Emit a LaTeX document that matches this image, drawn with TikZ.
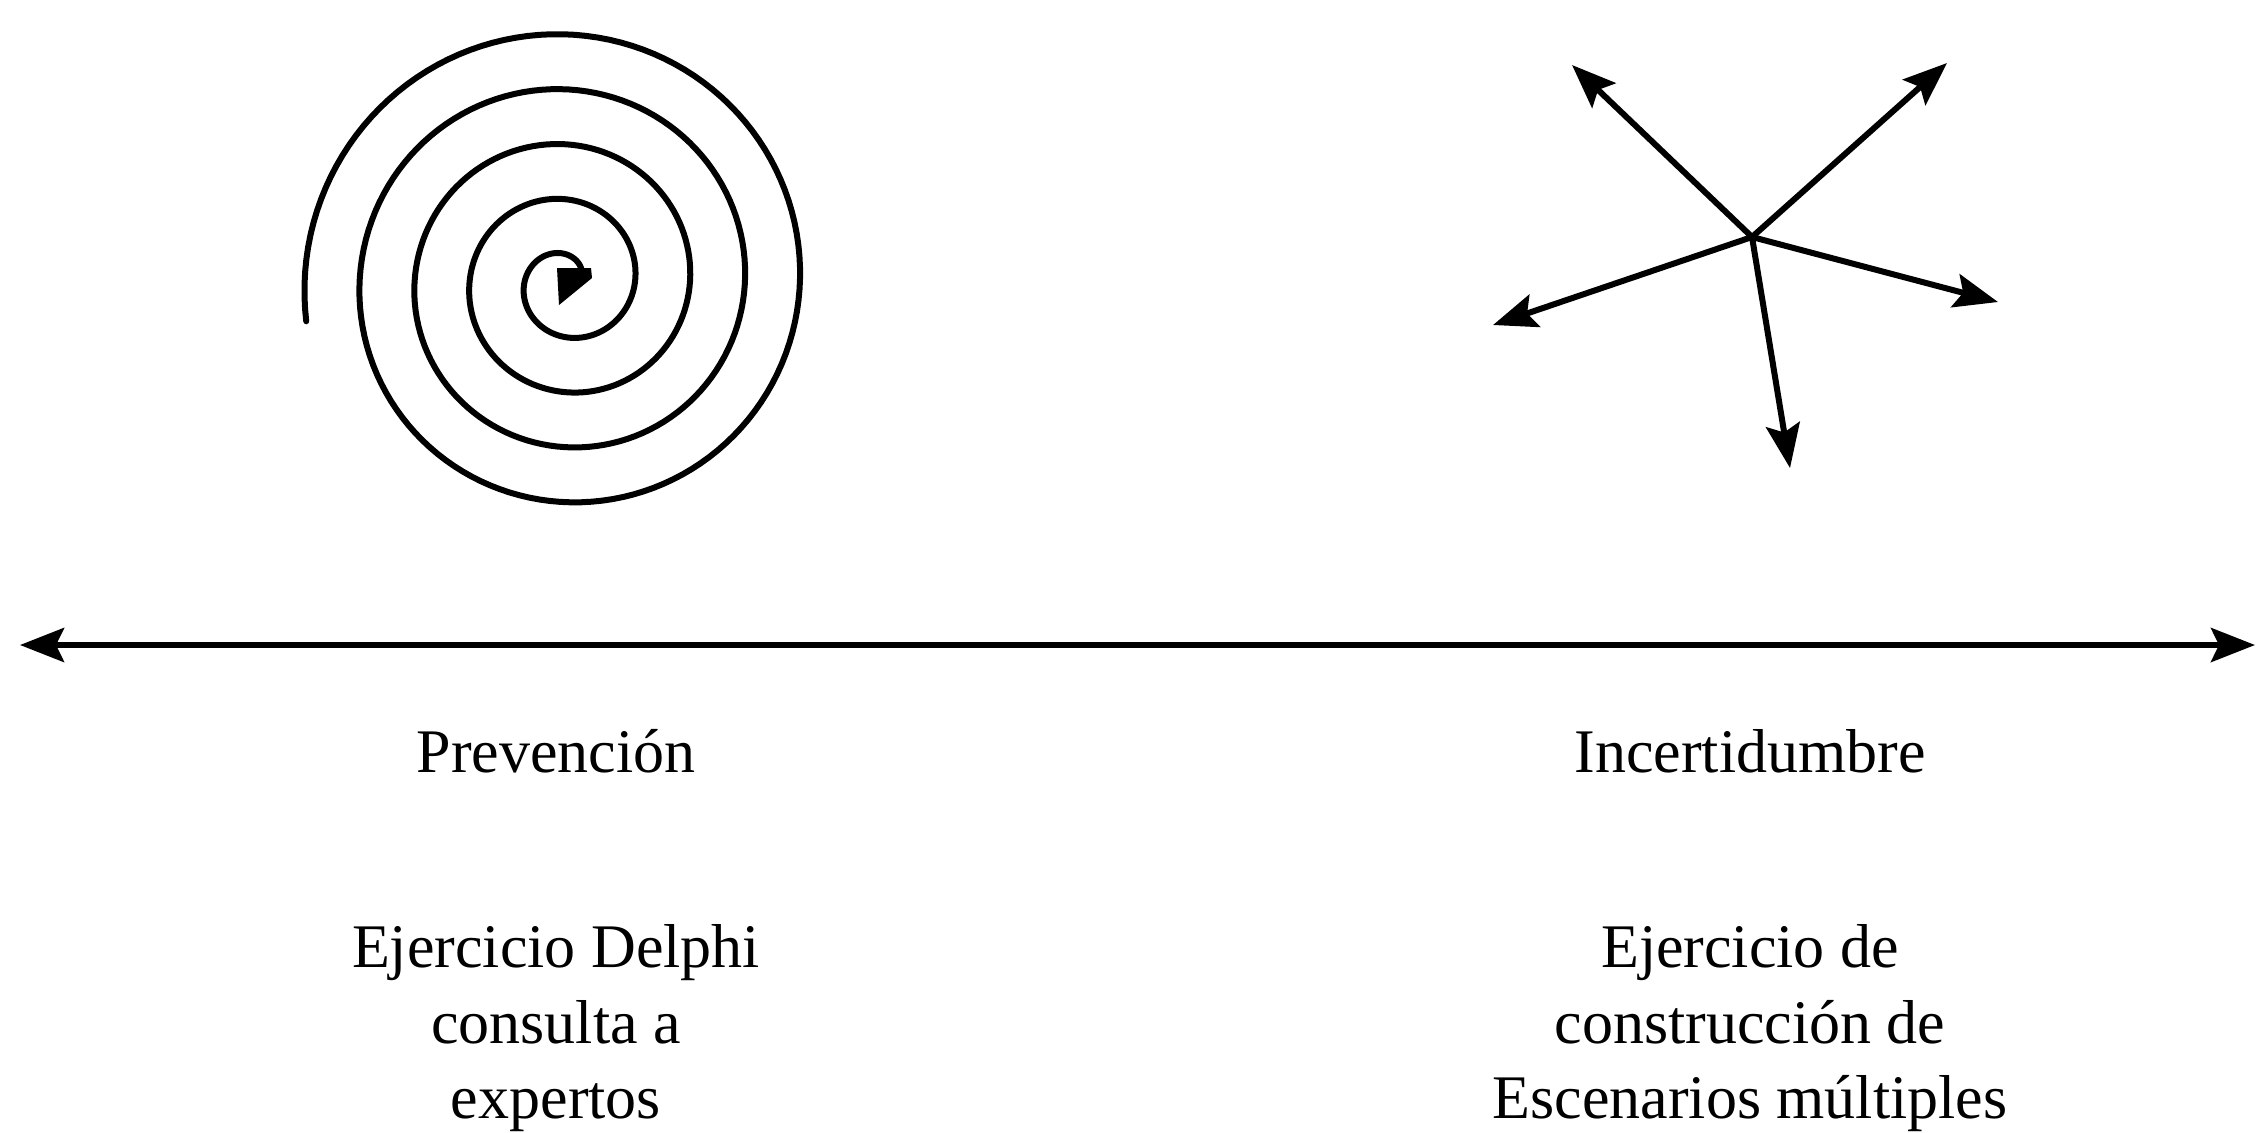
\documentclass[tikz,border=0pt]{standalone}
\usepackage{fontspec}
\setmainfont{Liberation Serif}
\usetikzlibrary{arrows.meta}
\begin{document}
\begin{tikzpicture}[x=0.5pt,y=-0.5pt,
  stroke/.style={line width=3pt, line cap=butt, line join=round},
  tip/.style={-{Stealth[length=22pt,width=17pt,inset=4pt]}},
  lbl/.style={inner sep=0pt, anchor=base, font=\fontsize{31pt}{38pt}\selectfont}]
\useasboundingbox (0,0) rectangle (2262,1132);
\fill[white] (0,0) rectangle (2262,1132);

% spiral
\draw[stroke, line cap=round] plot[domain=0:1628.6, samples=600, variable=\t]
  ({566 + (14 + 0.15272*\t)*cos(\t)}, {282 - (14 + 0.15272*\t)*sin(\t)});
\fill (557,268) -- (591,268) -- (592,278) -- (559,305) -- cycle;

% star of arrows
\coordinate (sc) at (1752,237);
\coordinate (ul) at (1572,65);
\coordinate (ur) at (1947,63);
\coordinate (lf) at (1493,325);
\coordinate (rt) at (1998,302);
\coordinate (dn) at (1790,468);
\foreach \e in {ul,ur,lf,rt,dn}
  \draw[stroke, tip] (sc) -- (\e);

% axis
\coordinate (axl) at (20,645);
\coordinate (axr) at (2255,645);
\draw[stroke, {Stealth[length=22pt,width=17pt,inset=4pt]}-{Stealth[length=22pt,width=17pt,inset=4pt]}] (axl) -- (axr);

% labels
\node[lbl] (prev) at (556,772) {Prevención};
\node[lbl] (inc) at (1750,772) {Incertidumbre};
\node[lbl] (la) at (556,967) {Ejercicio Delphi};
\node[lbl] (lb) at (556,1043) {consulta a};
\node[lbl] (lc) at (556,1118) {expertos};
\node[lbl] (ra) at (1750,967) {Ejercicio de};
\node[lbl] (rb) at (1750,1043) {construcción de};
\node[lbl] (rc) at (1750,1118) {Escenarios múltiples};
\end{tikzpicture}
\end{document}
